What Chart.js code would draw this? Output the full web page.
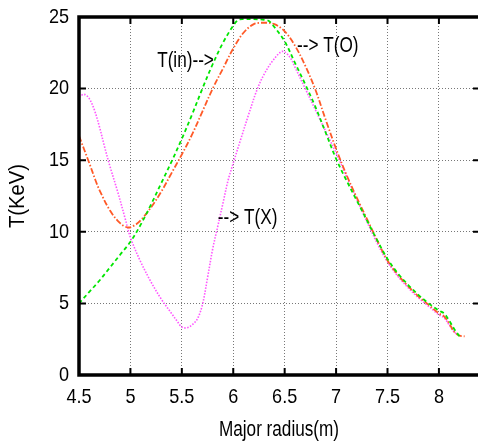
<!DOCTYPE html>
<html>
<head>
<meta charset="utf-8">
<script src="https://cdn.jsdelivr.net/npm/chart.js@4/dist/chart.umd.min.js"></script>
<style>
  html, body { margin: 0; padding: 0; background: #fff; }
  canvas { display: block; }
</style>
</head>
<body>
<canvas id="chartTemp" width="478" height="441"></canvas>
<script>
// ---- data ----
const xTicks = [4.5, 5, 5.5, 6, 6.5, 7, 7.5, 8];
const yTicks = [0, 5, 10, 15, 20, 25];

const inR = [4.5, 4.6, 4.7, 4.8, 4.9, 5.0, 5.1, 5.2, 5.3, 5.4, 5.5, 5.6, 5.7, 5.8, 5.9, 6.0, 6.05, 6.1, 6.2, 6.3, 6.35, 6.4, 6.5, 6.6, 6.7, 6.8, 6.9, 7.0, 7.1, 7.2, 7.3, 7.4, 7.5, 7.6, 7.7, 7.8, 7.9, 8.0, 8.05, 8.1, 8.15, 8.2];
const inT = [5.0, 5.8, 6.6, 7.5, 8.4, 9.3, 10.5, 11.9, 13.4, 14.9, 16.5, 18.2, 20.0, 21.7, 23.2, 24.4, 24.8, 24.85, 24.85, 24.8, 24.7, 24.3, 23.3, 21.8, 20.3, 18.7, 16.9, 15.1, 13.6, 12.2, 10.8, 9.4, 8.1, 7.1, 6.3, 5.6, 5.0, 4.5, 4.3, 3.8, 3.2, 2.7];

const oR = [4.5, 4.6, 4.66, 4.7, 4.8, 4.9, 4.98, 5.05, 5.1, 5.2, 5.3, 5.4, 5.5, 5.6, 5.7, 5.8, 5.9, 6.0, 6.1, 6.2, 6.3, 6.4, 6.5, 6.6, 6.7, 6.8, 6.9, 7.0, 7.1, 7.2, 7.3, 7.4, 7.5, 7.6, 7.7, 7.8, 7.9, 8.0, 8.05, 8.1, 8.15, 8.2, 8.25];
const oT = [16.7, 14.8, 13.6, 12.9, 11.5, 10.6, 10.3, 10.5, 10.8, 11.7, 12.8, 14.1, 15.4, 16.8, 18.4, 20.0, 21.4, 22.8, 23.9, 24.5, 24.6, 24.5, 24.0, 23.0, 21.6, 19.9, 17.8, 15.8, 14.0, 12.4, 10.9, 9.4, 8.0, 7.0, 6.2, 5.5, 4.9, 4.3, 4.1, 3.6, 3.0, 2.75, 2.7];

const xR = [4.5, 4.55, 4.6, 4.65, 4.7, 4.75, 4.8, 4.88, 4.95, 5.0, 5.1, 5.2, 5.3, 5.4, 5.45, 5.5, 5.55, 5.6, 5.65, 5.7, 5.75, 5.8, 5.85, 5.9, 5.95, 6.0, 6.07, 6.15, 6.23, 6.3, 6.39, 6.48, 6.55, 6.6, 6.7, 6.8, 6.9, 7.0, 7.1, 7.2, 7.3, 7.4, 7.5, 7.6, 7.7, 7.8, 7.9, 8.0, 8.05, 8.1, 8.15, 8.2];
const xT = [19.4, 19.6, 19.3, 18.5, 17.3, 15.9, 14.6, 12.7, 10.9, 9.6, 7.9, 6.5, 5.3, 4.3, 3.8, 3.35, 3.3, 3.5, 3.9, 4.9, 6.8, 8.8, 10.4, 12.0, 13.6, 14.8, 16.4, 18.2, 19.9, 21.0, 22.0, 22.6, 22.2, 21.5, 20.0, 18.5, 17.0, 15.5, 13.9, 12.3, 10.7, 9.2, 7.9, 6.9, 6.1, 5.4, 4.8, 4.2, 4.0, 3.5, 3.0, 2.75];

const labels = [
    { text: 'T(in)-->', x: 5.26, y: 21.9 },
    { text: '--> T(O)', x: 6.62, y: 23.0 },
    { text: '--> T(X)', x: 5.85, y: 11.0 },
];

const FONT = '"Liberation Sans", Arial, sans-serif';

function pts(xs, ys) {
    return xs.map((x, i) => ({ x: x, y: ys[i] }));
}

// narrow text, like the gnuplot helvetica
function narrowText(ctx, text, x, y, sx, align) {
    ctx.save();
    ctx.translate(x, y);
    ctx.scale(sx, 1);
    ctx.textAlign = align;
    ctx.fillText(text, 0, 0);
    ctx.restore();
}

// frame, inward ticks, tick labels, titles and curve labels
const framePlugin = {
    id: 'frame',
    afterDraw(chart) {
        const ctx = chart.ctx;
        const a = chart.chartArea;
        const sx = chart.scales.x, sy = chart.scales.y;
        ctx.save();
        ctx.setLineDash([]);
        ctx.strokeStyle = '#000';

        ctx.lineWidth = 2;
        xTicks.forEach(v => {
            const p = sx.getPixelForValue(v);
            ctx.beginPath();
            ctx.moveTo(p, a.bottom); ctx.lineTo(p, a.bottom - 7);
            ctx.moveTo(p, a.top); ctx.lineTo(p, a.top + 7);
            ctx.stroke();
        });
        yTicks.forEach(v => {
            const p = sy.getPixelForValue(v);
            ctx.beginPath();
            ctx.moveTo(a.left, p); ctx.lineTo(a.left + 7, p);
            ctx.moveTo(a.right, p); ctx.lineTo(a.right - 5, p);
            ctx.stroke();
        });

        ctx.lineWidth = 3.5;
        ctx.beginPath();
        ctx.moveTo(a.right + 2, a.top);
        ctx.lineTo(a.left, a.top);
        ctx.lineTo(a.left, a.bottom);
        ctx.lineTo(a.right + 2, a.bottom);
        ctx.stroke();

        ctx.fillStyle = '#000';
        ctx.font = '21px ' + FONT;
        ctx.textBaseline = 'middle';

        xTicks.forEach(v => {
            narrowText(ctx, String(v), sx.getPixelForValue(v), a.bottom + 22, 0.86, 'center');
        });
        yTicks.forEach(v => {
            narrowText(ctx, String(v), a.left - 10, sy.getPixelForValue(v), 0.86, 'right');
        });

        ctx.font = '22px ' + FONT;
        narrowText(ctx, 'Major radius(m)', 279, 430, 0.78, 'center');

        ctx.save();
        ctx.translate(18, 196);
        ctx.rotate(-Math.PI / 2);
        ctx.scale(0.92, 1);
        ctx.textAlign = 'center';
        ctx.fillText('T(KeV)', 0, 0);
        ctx.restore();

        labels.forEach(l => {
            narrowText(ctx, l.text, sx.getPixelForValue(l.x), sy.getPixelForValue(l.y), 0.78, 'left');
        });
        ctx.restore();
    }
};

new Chart(document.getElementById('chartTemp').getContext('2d'), {
    type: 'line',
    data: {
        datasets: [
            {
                label: 'T(in)',
                data: pts(inR, inT),
                borderColor: '#00e600',
                borderWidth: 1.8,
                borderDash: [4, 3],
                pointRadius: 0,
                tension: 0.35,
                fill: false,
            },
            {
                label: 'T(O)',
                data: pts(oR, oT),
                borderColor: '#ff5a28',
                borderWidth: 1.8,
                borderDash: [6, 2, 1.5, 2],
                pointRadius: 0,
                tension: 0.35,
                fill: false,
            },
            {
                label: 'T(X)',
                data: pts(xR, xT),
                borderColor: '#ff55ff',
                borderWidth: 1.6,
                borderDash: [1.5, 1.5],
                pointRadius: 0,
                tension: 0.35,
                fill: false,
            },
        ]
    },
    options: {
        responsive: false,
        animation: false,
        devicePixelRatio: 1,
        layout: { padding: { top: 17, right: 0, left: 0, bottom: 0 } },
        plugins: {
            legend: { display: false },
            tooltip: { enabled: false },
        },
        scales: {
            x: {
                type: 'linear',
                min: 4.5,
                max: 8.38,
                afterBuildTicks: s => { s.ticks = xTicks.map(v => ({ value: v })); },
                afterFit: s => { s.height = 66; },
                grid: { color: '#777', lineWidth: 1, drawTicks: false },
                border: { display: false, dash: [1, 2] },
                ticks: { display: false },
            },
            y: {
                type: 'linear',
                min: 0,
                max: 25,
                afterBuildTicks: s => { s.ticks = yTicks.map(v => ({ value: v })); },
                afterFit: s => { s.width = 79; },
                grid: { color: '#777', lineWidth: 1, drawTicks: false },
                border: { display: false, dash: [1, 2] },
                ticks: { display: false },
            },
        },
    },
    plugins: [framePlugin]
});
</script>
</body>
</html>
